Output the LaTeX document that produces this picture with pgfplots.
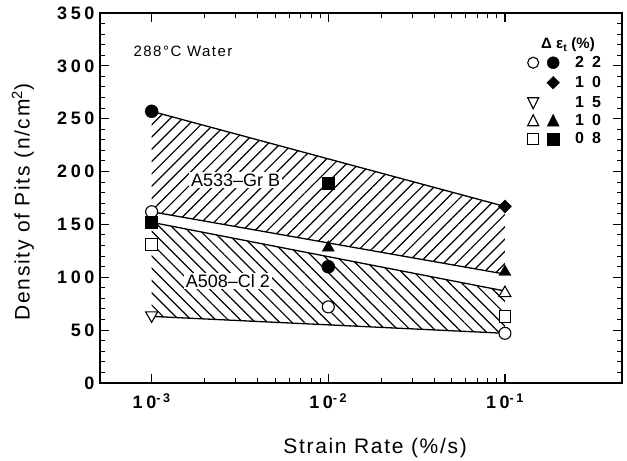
\documentclass[border=0pt]{standalone}
\usepackage{fontspec}
\setmainfont{Liberation Sans}
\newfontfamily\spaced[LetterSpace=20]{Liberation Sans}
\newfontfamily\lspaced[LetterSpace=8]{Liberation Sans}
\newfontfamily\mspaced[LetterSpace=10]{Liberation Sans}
\usepackage{pgfplots}
\pgfplotsset{compat=1.18}
\usetikzlibrary{patterns.meta}
\begin{document}
\begin{tikzpicture}
\begin{axis}[
  scale only axis, width=522pt, height=370pt,
  xmode=log, xmin=5.1e-4, xmax=0.46,
  ymin=0, ymax=350, ytick={0,50,...,350}, minor y tick num=4,
  xtick={1e-3,1e-2,1e-1},
  xticklabels={10\textsuperscript{-3},10\textsuperscript{-2},10\textsuperscript{-1}},
  /pgf/number format/assume math mode=true,
  axis line style={line width=1.4pt},
  major tick length=9pt, minor tick length=5pt,
  every major tick/.append style={black, line width=1.2pt},
  every minor tick/.append style={black, line width=1pt},
  yticklabel style={font=\fontsize{18}{18}\selectfont\spaced\bfseries, xshift=-2pt},
  xticklabel style={font=\fontsize{18}{18}\selectfont\spaced\bfseries, yshift=-7pt},
  ylabel={Density of Pits (n/cm\textsuperscript{2})},
  ylabel style={font=\fontsize{21}{21}\selectfont\lspaced, at={(axis description cs:-0.1475,0.489)}, anchor=center},
  xlabel={Strain Rate (\%/s)},
  xlabel style={font=\fontsize{21}{21}\selectfont\lspaced, at={(axis description cs:0.527,-0.176)}, anchor=center},
  legend style={draw=none, fill=none, inner sep=0pt, row sep=0pt, column sep=0pt,
    nodes={inner sep=0pt}, font=\fontsize{16}{16}\selectfont\bfseries,
    at={(rel axis cs:0.8161,0.8932)}, anchor=north west},
  legend cell align=left,
]
% hatched regions
\addplot[draw=none, forget plot, pattern={Lines[angle=45,distance=8.7pt,line width=1.2pt]}]
  coordinates {(1e-3,257) (1e-1,167) (1e-1,103) (1e-3,162)} --cycle;
\addplot[draw=none, forget plot, pattern={Lines[angle=-45,distance=8.7pt,line width=1.2pt]}]
  coordinates {(1e-3,152) (1e-1,87) (1e-1,47) (1e-3,63)} --cycle;
% boundary lines
\addplot[black, line width=1.3pt, forget plot] coordinates {(1e-3,257) (1e-1,167)};
\addplot[black, line width=1.3pt, forget plot] coordinates {(1e-3,162) (1e-1,103)};
\addplot[black, line width=1.3pt, forget plot] coordinates {(1e-3,152) (1e-1,87)};
\addplot[black, line width=1.3pt, forget plot] coordinates {(1e-3,63) (1e-1,47)};
% markers
\addplot[only marks, forget plot, mark=*, mark size=6pt, mark options={fill=white, draw=black, line width=1.1pt}]
  coordinates {(1e-3,162) (1e-2,72) (1e-1,47)};
\addplot[only marks, forget plot, mark=*, mark size=6.5pt, mark options={fill=black, draw=black}]
  coordinates {(1e-3,257) (1e-2,110)};
\addplot[only marks, forget plot, mark=square*, mark size=4.6pt, mark options={rotate=45, fill=black, draw=black}]
  coordinates {(1e-1,167)};
\addplot[only marks, forget plot, mark=triangle*, mark size=7pt, mark options={rotate=180, fill=white, draw=black, line width=1.1pt}]
  coordinates {(1e-3,64)};
\addplot[only marks, forget plot, mark=triangle*, mark size=7pt, mark options={fill=white, draw=black, line width=1.1pt}]
  coordinates {(1e-1,85)};
\addplot[only marks, forget plot, mark=triangle*, mark size=7pt, mark options={fill=black, draw=black}]
  coordinates {(1e-2,128) (1e-1,105)};
\addplot[only marks, forget plot, mark=square*, mark size=5.8pt, mark options={fill=white, draw=black, line width=1.1pt}]
  coordinates {(1e-3,131) (1e-1,63)};
\addplot[only marks, forget plot, mark=square*, mark size=6pt, mark options={fill=black, draw=black}]
  coordinates {(1e-3,152) (1e-2,189)};
% legend
\addlegendimage{legend image code/.code={\path[draw=none,fill=none] (-7pt,-10pt) rectangle (42pt,10pt);
  \draw[black,line width=1.1pt,fill=white] (0pt,0pt) circle (5.5pt); \fill[black] (20pt,0pt) circle (6pt);}}
\addlegendentry{2\hspace{8pt}2}
\addlegendimage{legend image code/.code={\path[draw=none,fill=none] (-7pt,-10pt) rectangle (42pt,10pt);
  \fill[black] (20pt,6.3pt) -- (26.3pt,0pt) -- (20pt,-6.3pt) -- (13.7pt,0pt) -- cycle;}}
\addlegendentry{1\hspace{8pt}0}
\addlegendimage{legend image code/.code={\path[draw=none,fill=none] (-7pt,-10pt) rectangle (42pt,10pt);
  \draw[black,line width=1.1pt,fill=white] (-5.5pt,5pt) -- (5.5pt,5pt) -- (0pt,-6pt) -- cycle;}}
\addlegendentry{1\hspace{8pt}5}
\addlegendimage{legend image code/.code={\path[draw=none,fill=none] (-7pt,-8pt) rectangle (42pt,8pt);
  \draw[black,line width=1.1pt,fill=white] (-5.5pt,-5pt) -- (5.5pt,-5pt) -- (0pt,6pt) -- cycle;
  \fill[black] (14pt,-5.5pt) -- (26pt,-5.5pt) -- (20pt,6.5pt) -- cycle;}}
\addlegendentry{1\hspace{8pt}0}
\addlegendimage{legend image code/.code={\path[draw=none,fill=none] (-7pt,-10pt) rectangle (42pt,10pt);
  \draw[black,line width=1.1pt,fill=white] (-5.5pt,-5.5pt) rectangle (5.5pt,5.5pt);
  \fill[black] (14pt,-6pt) rectangle (26pt,6pt);}}
\addlegendentry{0\hspace{8pt}8}
% texts
\node[font=\fontsize{15}{15}\selectfont\mspaced] at (rel axis cs:0.159,0.897) {288°C Water};
\node[font=\fontsize{18}{18}\selectfont, fill=white, inner xsep=2pt, inner ysep=1.5pt] at (rel axis cs:0.260,0.548) {A533–Gr B};
\node[font=\fontsize{18}{18}\selectfont, fill=white, inner xsep=2pt, inner ysep=1.5pt] at (rel axis cs:0.245,0.276) {A508–Cl 2};
\node[font=\fontsize{15}{15}\selectfont\bfseries] at (rel axis cs:0.8966,0.9135) {Δ ε\textsubscript{t} (\%)};
\end{axis}
\pgfresetboundingbox
\path ([shift={(-100pt,-78pt)}]current axis.south west) rectangle ([shift={(5pt,13pt)}]current axis.north east);
\end{tikzpicture}
\end{document}
